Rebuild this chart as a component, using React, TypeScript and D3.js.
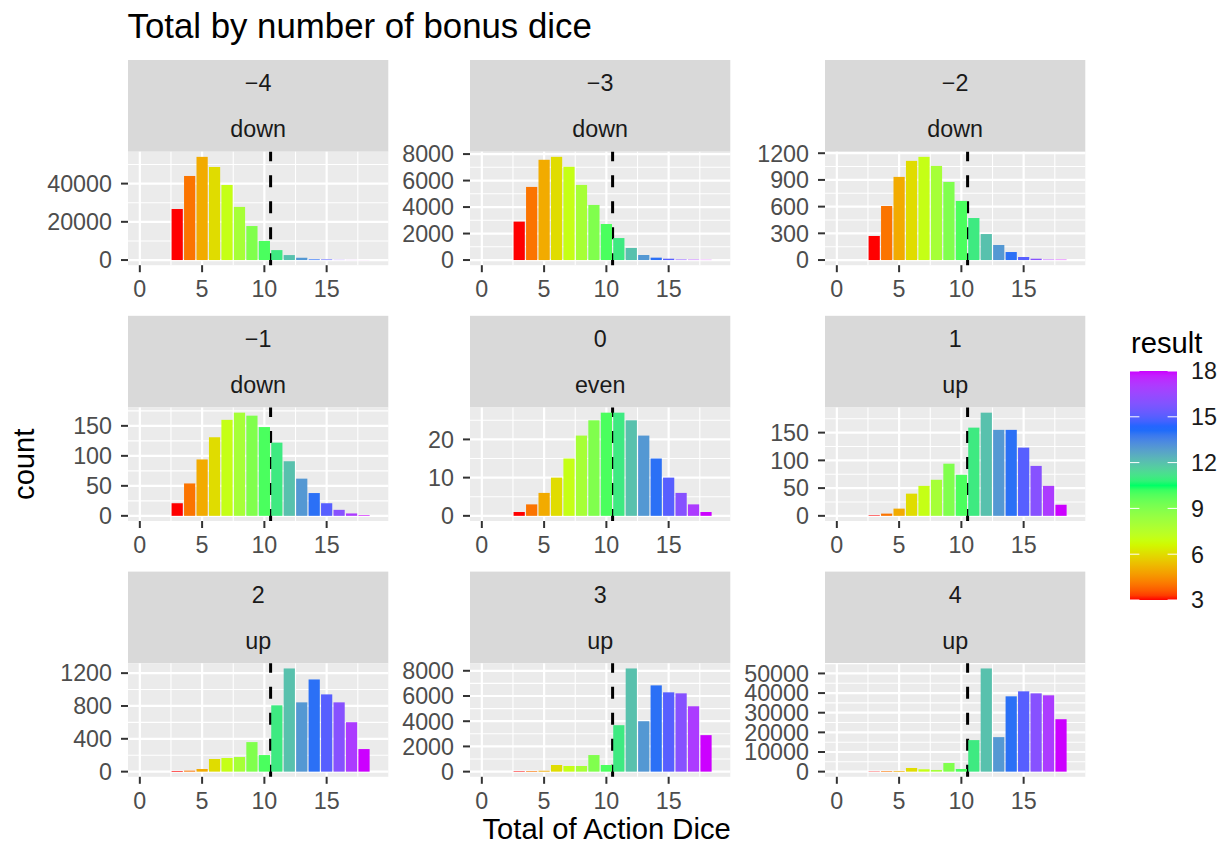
import React from 'react';
import * as d3 from 'd3';

// dice totals on the x axis, also the fill value
const results = [3, 4, 5, 6, 7, 8, 9, 10, 11, 12, 13, 14, 15, 16, 17, 18];

const bonusLabels = ['\u22124', '\u22123', '\u22122', '\u22121', '0', '1', '2', '3', '4'];
const directionLabels = ['down', 'down', 'down', 'down', 'even', 'up', 'up', 'up', 'up'];

// counts per total, one array per facet
const countsMinus4 = [26700, 44000, 54000, 48700, 39300, 27800, 17800, 10000, 5200, 2600, 1200, 350, 300, 100, 50, 20];
const countsMinus3 = [2900, 5520, 7570, 7790, 7040, 5670, 4160, 2720, 1660, 910, 380, 180, 100, 40, 30, 15];
const countsMinus2 = [270, 607, 934, 1114, 1159, 1057, 877, 664, 472, 292, 169, 90, 34, 15, 5, 4];
const countsMinus1 = [21, 54, 94, 131, 160, 172, 167, 148, 122, 91, 62, 38, 21, 10, 4, 1];
const countsZero = [1, 3, 6, 10, 15, 21, 25, 27, 27, 25, 21, 15, 10, 6, 3, 1];
const countsPlus1 = [1, 4, 13, 40, 54, 65, 94, 74, 159, 186, 155, 155, 123, 90, 54, 20];
const countsPlus2 = [8, 12, 32, 154, 166, 178, 360, 202, 808, 1257, 844, 1123, 941, 844, 602, 275];
const countsPlus3 = [40, 50, 70, 526, 447, 447, 1316, 526, 3684, 8184, 4000, 6842, 6290, 6210, 5184, 2895];
const countsPlus4 = [150, 300, 350, 1860, 1200, 850, 4390, 1350, 16050, 52530, 17570, 38340, 40880, 39860, 38850, 26690];

const yTicksMinus4 = [0, 20000, 40000];
const yTicksMinus3 = [0, 2000, 4000, 6000, 8000];
const yTicksMinus2 = [0, 300, 600, 900, 1200];
const yTicksMinus1 = [0, 50, 100, 150];
const yTicksZero = [0, 10, 20];
const yTicksPlus1 = [0, 50, 100, 150];
const yTicksPlus2 = [0, 400, 800, 1200];
const yTicksPlus3 = [0, 2000, 4000, 6000, 8000];
const yTicksPlus4 = [0, 10000, 20000, 30000, 40000, 50000];

const xTicks = [0, 5, 10, 15];
const xMinorTicks = [2.5, 7.5, 12.5, 17.5];
const xLimits = [0, 19];
const cutoff = 10.5;
const legendTicks = [3, 6, 9, 12, 15, 18];

const facetCounts = [countsMinus4, countsMinus3, countsMinus2, countsMinus1, countsZero, countsPlus1, countsPlus2, countsPlus3, countsPlus4];
const facetTicks = [yTicksMinus4, yTicksMinus3, yTicksMinus2, yTicksMinus1, yTicksZero, yTicksPlus1, yTicksPlus2, yTicksPlus3, yTicksPlus4];

const W = 1222;
const H = 843;
const font = 'Liberation Sans, Arial, Helvetica, sans-serif';
const smallFont = 23.3;
const axisTitleFont = 29.2;
const colLeft = [128, 470, 825];
const rowTop = [151.7, 407.5, 663.3];
const panelW = 260.3;
const panelH = 113.5;
const stripH = 91.7;

// rainbow(5) mapped over 3..18, interpolated in Lab like ggplot
const fill = d3.scaleLinear<string>()
  .domain([3, 6.75, 10.5, 14.25, 18])
  .range(['#FF0000', '#CCFF00', '#00FF66', '#0066FF', '#CC00FF'])
  .interpolate(d3.interpolateLab);

function Panel({ idx }: { idx: number }) {
  const col = idx % 3;
  const row = Math.floor(idx / 3);
  const left = colLeft[col];
  const top = rowTop[row];
  const counts = facetCounts[idx];
  const ticks = facetTicks[idx];

  const span = xLimits[1] - xLimits[0];
  const x = d3.scaleLinear()
    .domain([xLimits[0] - span * 0.05, xLimits[1] + span * 0.05])
    .range([0, panelW]);
  const maxY = d3.max(counts) as number;
  const y = d3.scaleLinear()
    .domain([-maxY * 0.05, maxY * 1.05])
    .range([panelH, 0]);

  const step = ticks[1] - ticks[0];
  const [y0, y1] = y.domain();
  const yMinor = [ticks[0] - step / 2, ...ticks.map(t => t + step / 2)].filter(v => v >= y0 && v <= y1);

  return (
    <g transform={`translate(${left},${top})`}>
      {/* strip */}
      <rect x={0} y={-stripH} width={panelW} height={stripH} fill="#D9D9D9" />
      <text x={panelW / 2} y={-stripH * 0.75 + 8.3} textAnchor="middle" fontSize={smallFont} fill="#1A1A1A">{bonusLabels[idx]}</text>
      <text x={panelW / 2} y={-stripH * 0.25 + 8.3} textAnchor="middle" fontSize={smallFont} fill="#1A1A1A">{directionLabels[idx]}</text>

      {/* panel background + grid */}
      <rect x={0} y={0} width={panelW} height={panelH} fill="#EBEBEB" />
      {yMinor.map(v => (
        <line key={'ym' + v} x1={0} x2={panelW} y1={y(v)} y2={y(v)} stroke="#fff" strokeWidth={1.1} />
      ))}
      {xMinorTicks.map(v => (
        <line key={'xm' + v} x1={x(v)} x2={x(v)} y1={0} y2={panelH} stroke="#fff" strokeWidth={1.1} />
      ))}
      {ticks.map(v => (
        <line key={'yM' + v} x1={0} x2={panelW} y1={y(v)} y2={y(v)} stroke="#fff" strokeWidth={2.2} />
      ))}
      {xTicks.map(v => (
        <line key={'xM' + v} x1={x(v)} x2={x(v)} y1={0} y2={panelH} stroke="#fff" strokeWidth={2.2} />
      ))}

      {/* threshold */}
      <line x1={x(cutoff)} x2={x(cutoff)} y1={panelH} y2={0} stroke="#000" strokeWidth={3} strokeDasharray="12 14" />

      {/* bars */}
      {results.map((r, i) => (
        <rect key={r} x={x(r - 0.45)} width={x(r + 0.45) - x(r - 0.45)}
          y={y(counts[i])} height={y(0) - y(counts[i])} fill={fill(r)} />
      ))}

      {/* y axis */}
      {ticks.map(v => (
        <g key={'yt' + v}>
          <line x1={-7} x2={0} y1={y(v)} y2={y(v)} stroke="#333" strokeWidth={2} />
          <text x={-16} y={y(v) + 8.3} textAnchor="end" fontSize={smallFont} fill="#4D4D4D">{v}</text>
        </g>
      ))}

      {/* x axis */}
      {xTicks.map(v => (
        <g key={'xt' + v}>
          <line x1={x(v)} x2={x(v)} y1={panelH} y2={panelH + 7} stroke="#333" strokeWidth={2} />
          <text x={x(v)} y={panelH + 31.8} textAnchor="middle" fontSize={smallFont} fill="#4D4D4D">{v}</text>
        </g>
      ))}
    </g>
  );
}

function Legend() {
  const barX = 1130;
  const barW = 47;
  const ly = d3.scaleLinear().domain([3, 18]).range([600, 371]);
  const stops = d3.range(0, 1.0001, 0.02);
  return (
    <g>
      <defs>
        <linearGradient id="resultGrad" x1="0" y1="1" x2="0" y2="0">
          {stops.map(t => (
            <stop key={t} offset={`${t * 100}%`} stopColor={fill(3 + t * 15)} />
          ))}
        </linearGradient>
      </defs>
      <text x={barX + 1} y={353} fontSize={axisTitleFont} fill="#000">result</text>
      <rect x={barX} y={ly(18)} width={barW} height={ly(3) - ly(18)} fill="url(#resultGrad)" />
      {legendTicks.map(v => (
        <g key={v}>
          <line x1={barX} x2={barX + 9.4} y1={ly(v)} y2={ly(v)} stroke="#fff" strokeWidth={1} />
          <line x1={barX + barW - 9.4} x2={barX + barW} y1={ly(v)} y2={ly(v)} stroke="#fff" strokeWidth={1} />
          <text x={1191} y={ly(v) + 8.3} fontSize={smallFont} fill="#1A1A1A">{v}</text>
        </g>
      ))}
    </g>
  );
}

export default function App() {
  const panelsMidY = (rowTop[0] + rowTop[2] + panelH) / 2;
  const panelsMidX = (colLeft[0] + colLeft[2] + panelW) / 2;
  return (
    <svg width={W} height={H} style={{ position: 'absolute', left: 0, top: 0, background: '#fff' }} fontFamily={font}>
      <rect width={W} height={H} fill="#fff" />
      <text x={127.5} y={38} fontSize={34.8} fill="#000">Total by number of bonus dice</text>
      {facetCounts.map((_, i) => <Panel key={i} idx={i} />)}
      <text transform={`translate(33.5,${panelsMidY}) rotate(-90)`} textAnchor="middle" fontSize={axisTitleFont} fill="#000">count</text>
      <text x={panelsMidX} y={839} textAnchor="middle" fontSize={axisTitleFont} fill="#000">Total of Action Dice</text>
      <Legend />
    </svg>
  );
}
